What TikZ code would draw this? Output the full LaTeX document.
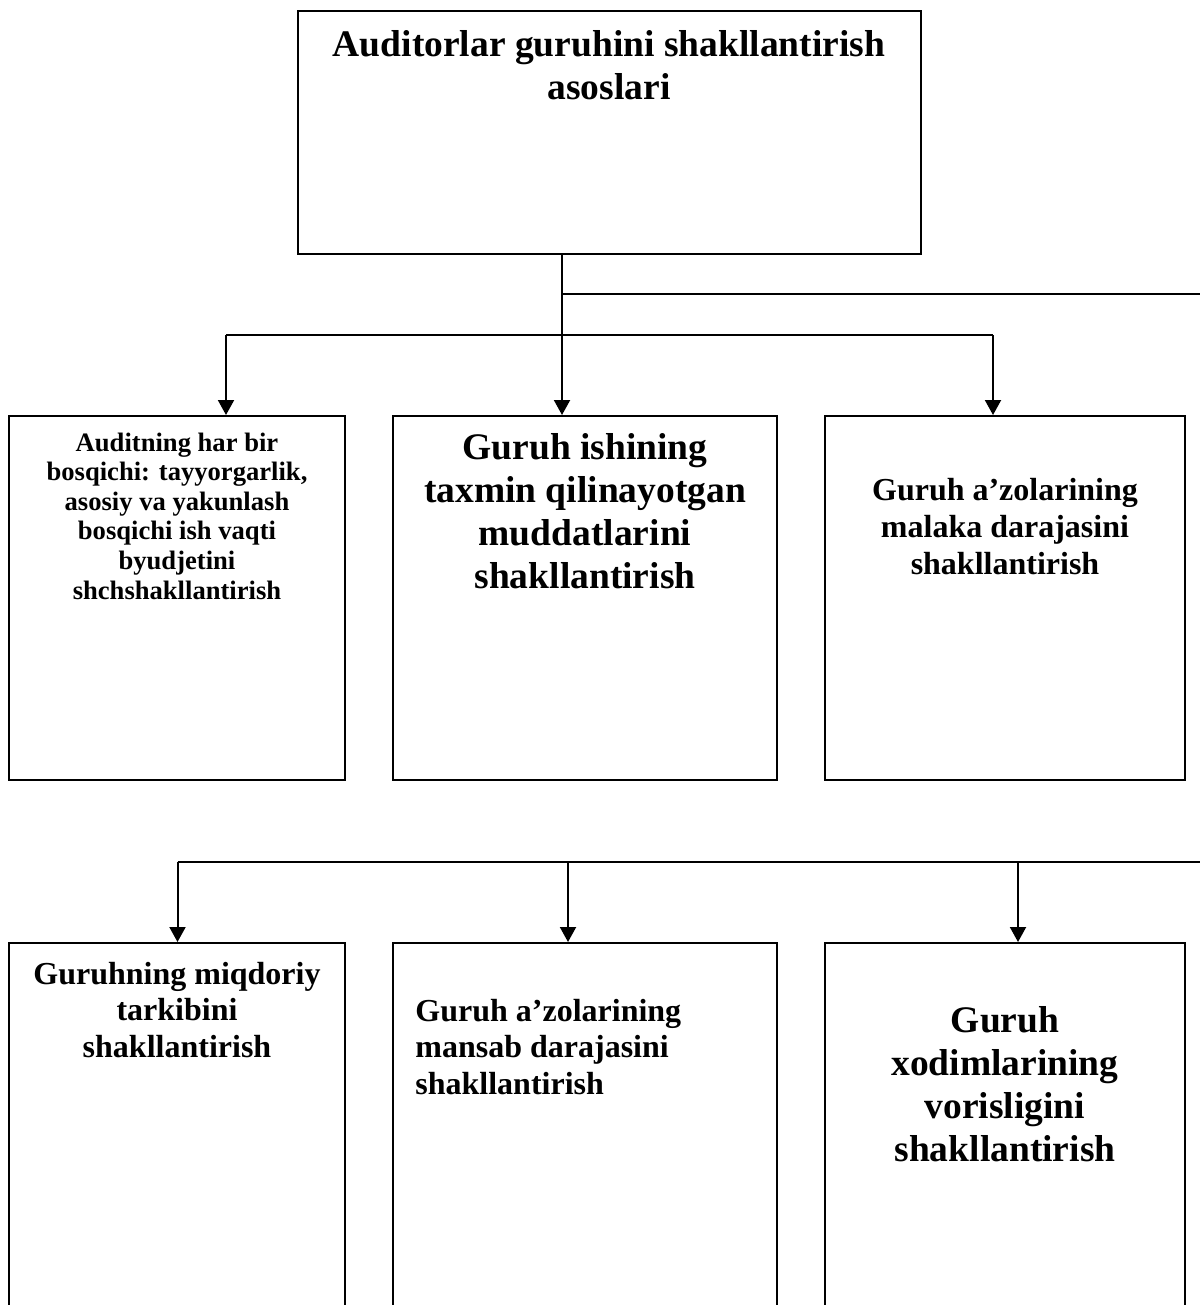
\documentclass[tikz,border=0pt]{standalone}
\usepackage{fontspec}
\setmainfont{Liberation Serif}
\usetikzlibrary{arrows.meta,positioning}
\tikzset{
  blok/.style={draw, line width=1pt, inner sep=0pt},
  katta/.style={align=center, inner sep=0pt, anchor=base,
    font=\fontsize{18.75}{21.4}\selectfont\bfseries},
  orta/.style={align=center, inner sep=0pt, anchor=base,
    font=\fontsize{16}{18.3}\selectfont\bfseries},
  kichik/.style={align=center, inner sep=0pt, anchor=base,
    font=\fontsize{13.3}{14.8}\selectfont\bfseries},
  chiziq/.style={line width=1pt},
  arr/.style={-{Triangle[length=7.5pt,width=8pt]}, line width=1pt}
}
\begin{document}
\begin{tikzpicture}[x=0.5pt,y=-0.5pt]
  \path[use as bounding box, clip] (0,0) rectangle (1200,1305);
  % bloklar
  \node[blok, minimum width=311.5pt, minimum height=121.5pt] (top) at (609.5,132.5) {};
  \node[blok, minimum width=168pt, minimum height=182pt] (a1) at (177,598) {};
  \node[blok, minimum width=192pt, minimum height=182pt] (b1) at (585,598) {};
  \node[blok, minimum width=180pt, minimum height=182pt] (c1) at (1005,598) {};
  \node[blok, minimum width=168pt, minimum height=190pt] (a2) at (177,1133) {};
  \node[blok, minimum width=192pt, minimum height=190pt] (b2) at (585,1133) {};
  \node[blok, minimum width=180pt, minimum height=190pt] (c2) at (1005,1133) {};
  % matnlar (base = oxirgi qator)
  \node[katta] (ttop) at (609,99.3) {Auditorlar guruhini shakllantirish\\asoslari};
  \node[kichik] (ta1) at (177,599) {Auditning har bir\\bosqichi: tayyorgarlik,\\asosiy va yakunlash\\bosqichi ish vaqti\\byudjetini\\shchshakllantirish};
  \node[katta] (tb1) at (585,588.3) {Guruh ishining\\taxmin qilinayotgan\\muddatlarini\\shakllantirish};
  \node[orta] (tc1) at (1005,574) {Guruh a’zolarining\\malaka darajasini\\shakllantirish};
  \node[orta] (ta2) at (177,1057.3) {Guruhning miqdoriy\\tarkibini\\shakllantirish};
  \node[orta, anchor=base west, align=left] (tb2) at (415,1094.5) {Guruh a’zolarining\\mansab darajasini\\shakllantirish};
  \node[katta] (tc2) at (1005,1161.3) {Guruh\\xodimlarining\\vorisligini\\shakllantirish};
  % birinchi qator ulanishlari
  \coordinate (t1) at (562,335);
  \coordinate (l1) at (226,335);
  \coordinate (r1) at (993,335);
  \coordinate (s1) at (562,294.3);
  \coordinate (e1) at (1200,294.3);
  \draw[chiziq] (top.south -| t1) -- (t1);
  \draw[chiziq] (s1) -- (e1);
  \draw[chiziq] (l1) -- (r1);
  \draw[arr] (t1) -- (t1 |- b1.north);
  \draw[arr] (l1) -- (l1 |- a1.north);
  \draw[arr] (r1) -- (r1 |- c1.north);
  % ikkinchi qator ulanishlari
  \coordinate (l2) at (177.5,862);
  \coordinate (m2) at (568,862);
  \coordinate (r2) at (1018,862);
  \coordinate (e2) at (1200,862);
  \draw[chiziq] (l2) -- (e2);
  \draw[arr] (l2) -- (l2 |- a2.north);
  \draw[arr] (m2) -- (m2 |- b2.north);
  \draw[arr] (r2) -- (r2 |- c2.north);
\end{tikzpicture}
\end{document}
